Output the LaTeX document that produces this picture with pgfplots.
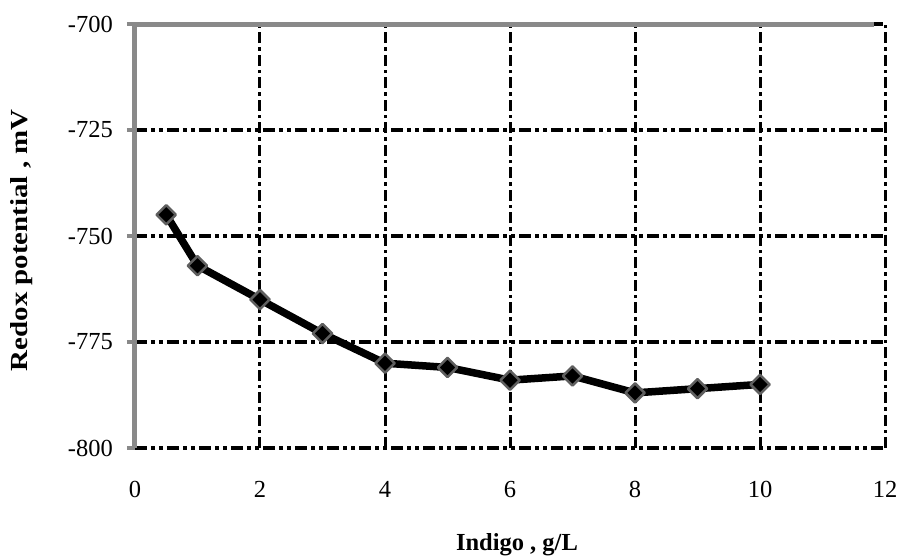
\documentclass[border=0pt]{standalone}
\usepackage{pgfplots}
\pgfplotsset{compat=1.18}
\usepackage{graphicx}
\usepackage{fontspec}
\setmainfont{Liberation Serif}

\definecolor{axisgray}{RGB}{137,137,137}
\definecolor{markedge}{RGB}{95,95,95}

\begin{document}
\begin{tikzpicture}
\begin{axis}[
  at={(0,0)}, anchor=south west,
  scale only axis,
  width=750bp, height=424bp,
  xmin=0, xmax=12, ymin=-800, ymax=-700,
  xtick={0,2,...,12},
  ytick={-800,-775,...,-700},
  grid=major,
  major x grid style={black, line width=3bp, dash pattern=on 11bp off 4bp on 3.5bp off 4bp},
  major y grid style={black, line width=4.5bp, dash pattern=on 12bp off 4bp on 4bp off 4bp on 4bp off 4bp},
  axis line style={draw=none},
  ytick pos=left,
  tick align=outside,
  major tick length=8bp,
  ytick style={axisgray, line width=4.5bp},
  xtick style={draw=none},
  /pgf/number format/assume math mode=true,
  tick label style={font=\fontsize{24.5bp}{28bp}\selectfont, inner sep=0pt},
  yticklabel style={anchor=east, xshift=-14bp},
  xticklabel style={anchor=north, yshift=-25bp},
  xlabel={Indigo , g/L},
  ylabel={\scalebox{1.18}[1]{Redox potential , mV}},
  label style={font=\fontsize{24.5bp}{28bp}\selectfont\bfseries},
  xlabel style={at={(axis description cs:0.5093,0)}, anchor=base, yshift=-102bp, inner sep=0pt},
  ylabel style={at={(axis description cs:-0.1427,0.49)}, anchor=base, inner sep=0pt},
  clip=false,
]
% left axis and top frame in gray
\draw[axisgray, line width=5bp] (rel axis cs:0,0) -- (rel axis cs:0,1) -- (rel axis cs:0.985,1);

\addplot[black, line width=7.5bp, line join=round,
  mark=square*, mark size=6.8bp,
  mark options={rotate=45, fill=black, draw=markedge, line width=2.5bp, solid}]
coordinates {
  (0.5,-745) (1,-757) (2,-765) (3,-773) (4,-780) (5,-781)
  (6,-784) (7,-783) (8,-787) (9,-786) (10,-785)
};
\coordinate (ll) at (rel axis cs:0,0);
\end{axis}
\path[use as bounding box] ([shift={(-135bp,-106bp)}]ll) rectangle ([shift={(765bp,448bp)}]ll);
\end{tikzpicture}
\end{document}
